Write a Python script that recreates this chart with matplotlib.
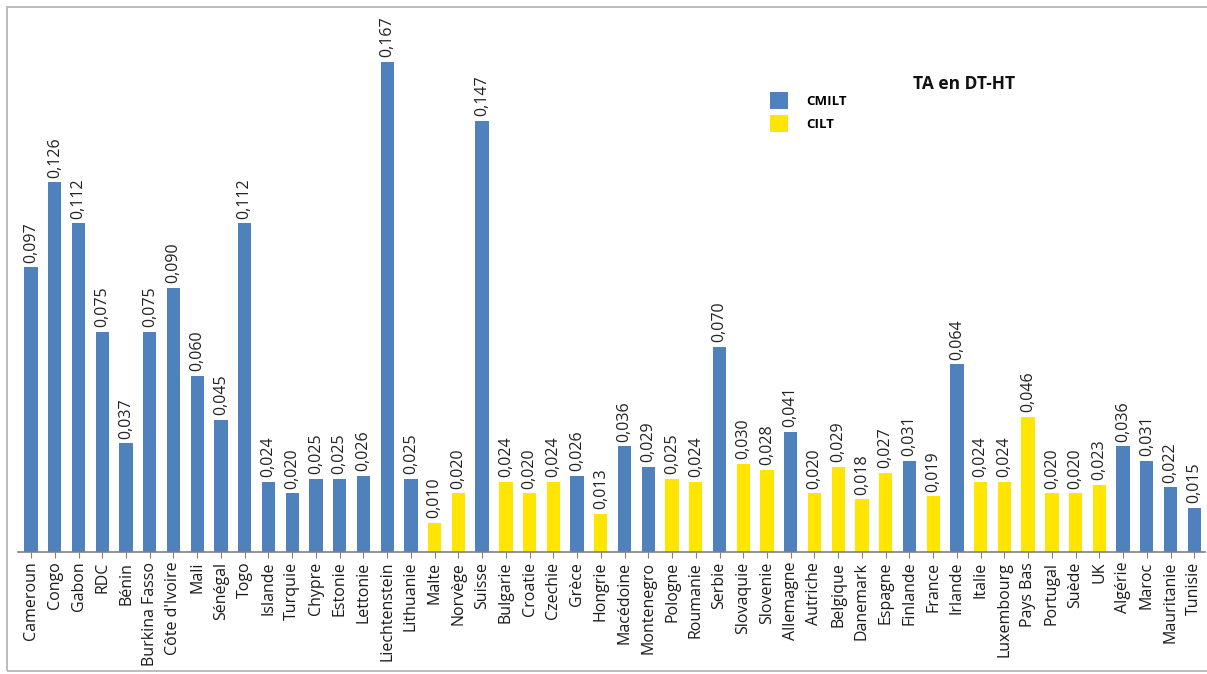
import matplotlib
matplotlib.use("Agg")
import matplotlib.pyplot as plt
from matplotlib.patches import Patch, Rectangle

countries = ["Cameroun", "Congo", "Gabon", "RDC", "Bénin", "Burkina Fasso", "Côte d'Ivoire",
             "Mali", "Sénégal", "Togo", "Islande", "Turquie", "Chypre", "Estonie", "Lettonie",
             "Liechtenstein", "Lithuanie", "Malte", "Norvège", "Suisse", "Bulgarie", "Croatie",
             "Czechie", "Grèce", "Hongrie", "Macédoine", "Montenegro", "Pologne", "Roumanie",
             "Serbie", "Slovaquie", "Slovenie", "Allemagne", "Autriche", "Belgique", "Danemark",
             "Espagne", "Finlande", "France", "Irlande", "Italie", "Luxembourg", "Pays Bas",
             "Portugal", "Suède", "UK", "Algérie", "Maroc", "Mauritanie", "Tunisie"]
values = [0.097, 0.126, 0.112, 0.075, 0.037, 0.075, 0.090, 0.060, 0.045, 0.112,
          0.024, 0.020, 0.025, 0.025, 0.026, 0.167, 0.025, 0.010, 0.020, 0.147,
          0.024, 0.020, 0.024, 0.026, 0.013, 0.036, 0.029, 0.025, 0.024, 0.070,
          0.030, 0.028, 0.041, 0.020, 0.029, 0.018, 0.027, 0.031, 0.019, 0.064,
          0.024, 0.024, 0.046, 0.020, 0.020, 0.023, 0.036, 0.031, 0.022, 0.015]
groups = ["CMILT"] * 17 + ["CILT", "CILT", "CMILT", "CILT", "CILT", "CILT", "CMILT", "CILT",
          "CMILT", "CMILT", "CILT", "CILT", "CMILT", "CILT", "CILT", "CMILT", "CILT", "CILT",
          "CILT", "CILT", "CMILT", "CILT", "CMILT", "CILT", "CILT", "CILT", "CILT", "CILT",
          "CILT", "CMILT", "CMILT", "CMILT", "CMILT"]
series_names = ["CMILT", "CILT"]
title = "TA en DT-HT"

colors = {"CMILT": "#4F81BD", "CILT": "#FFE500"}
font = "Open Sans"

W, H = 1207, 674
fig = plt.figure(figsize=(W / 100, H / 100), dpi=100)
fig.patches.append(Rectangle((7 / W, 0.004), 1.1, 1 - 7 / H - 0.004, transform=fig.transFigure,
                             fill=False, edgecolor="#b0b0b0", linewidth=1.2))

ax = fig.add_axes([18 / W, (H - 552) / H, (1205 - 18) / W, (552 - 24) / H])
x = list(range(len(countries)))
bar_colors = [colors[g] for g in groups]
ax.bar(x, values, width=0.56, color=bar_colors)

for xi, v in zip(x, values):
    ax.text(xi, v + 0.0016, f"{v:.3f}".replace(".", ","), rotation=90, ha="center", va="bottom",
            fontsize=11.5, family=font, color="#222222")

ax.set_xlim(-0.55, len(countries) - 0.55)
ax.set_ylim(0, 0.18)
ax.set_xticks(x)
ax.set_xticklabels(countries, rotation=90, fontsize=11.5, family=font, color="#1a1a1a")
ax.tick_params(axis="x", length=4, color="#808080", pad=3)
ax.set_yticks([])
for s in ["top", "right", "left"]:
    ax.spines[s].set_visible(False)
ax.spines["bottom"].set_color("#808080")
ax.spines["bottom"].set_linewidth(1.2)

handles = [Patch(facecolor=colors[n], edgecolor="none") for n in series_names]
fig.legend(handles, series_names, loc="upper left", bbox_to_anchor=(758 / W, 1 - 80 / H),
           frameon=False, prop={"family": font, "weight": "bold", "size": 9.5},
           handlelength=1.35, handleheight=1.6, handletextpad=1.4, labelspacing=0.45)
fig.text(913 / W, 1 - 84 / H, title, fontsize=12.5, fontweight="bold", family=font,
         va="center", ha="left", color="#111111")

fig.savefig("out.png", dpi=100)
